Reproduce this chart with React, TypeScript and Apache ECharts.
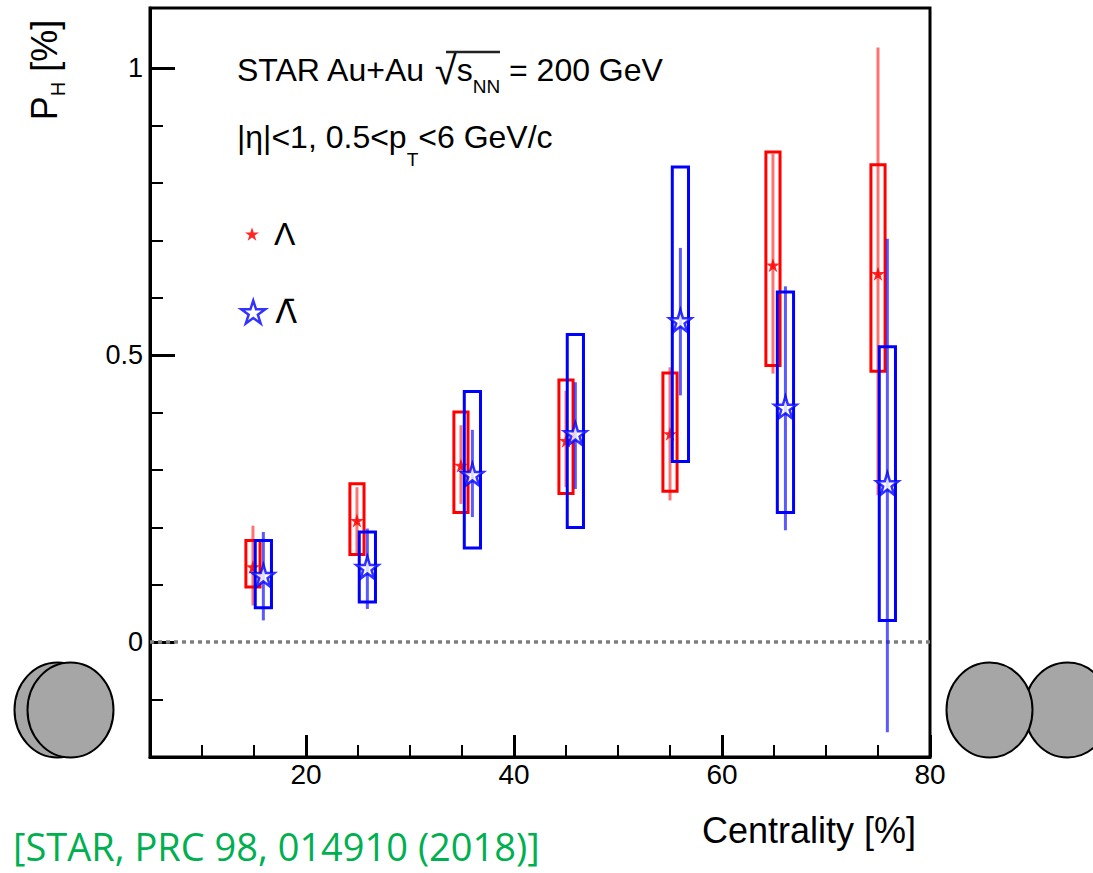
import React, { useEffect, useRef } from "react";
import * as echarts from "echarts";

// ---- data ----
// Λ (red): centrality, polarization, stat. error bar ends, syst. box ends
const CENT_LAMBDA = [14.9, 24.9, 34.9, 45.0, 55.0, 64.9, 75.0];
const PH_LAMBDA = [0.131, 0.212, 0.308, 0.351, 0.363, 0.657, 0.642];
const STAT_LO_LAMBDA = [0.064, 0.155, 0.241, 0.27, 0.247, 0.468, 0.256];
const STAT_HI_LAMBDA = [0.203, 0.27, 0.378, 0.438, 0.479, 0.851, 1.036];
const SYS_LO_LAMBDA = [0.096, 0.153, 0.226, 0.259, 0.263, 0.482, 0.472];
const SYS_HI_LAMBDA = [0.177, 0.276, 0.401, 0.457, 0.469, 0.854, 0.832];

// anti-Λ (blue)
const CENT_ALAMBDA = [15.9, 25.9, 36.0, 45.9, 56.0, 66.1, 75.9];
const PH_ALAMBDA = [0.116, 0.13, 0.292, 0.363, 0.56, 0.409, 0.276];
const STAT_LO_ALAMBDA = [0.038, 0.058, 0.218, 0.267, 0.43, 0.195, -0.157];
const STAT_HI_ALAMBDA = [0.192, 0.198, 0.37, 0.453, 0.687, 0.62, 0.703];
const SYS_LO_ALAMBDA = [0.06, 0.07, 0.164, 0.2, 0.315, 0.226, 0.038];
const SYS_HI_ALAMBDA = [0.177, 0.192, 0.437, 0.536, 0.828, 0.61, 0.515];

const X_MAJOR = [20, 40, 60, 80];
const X_MINOR = [10, 15, 25, 30, 35, 45, 50, 55, 65, 70, 75];
const Y_MAJOR = [0, 0.5, 1];
const Y_MINOR = [-0.1, 0.1, 0.2, 0.3, 0.4, 0.6, 0.7, 0.8, 0.9];

const NAME_L = "Λ";
const NAME_AL = "Λ\u0304";

// ---- styling ----
const F = "Liberation Sans, Arial, sans-serif";
const RED = "#ff0000";
const BLUE = "#0000ff";
const STAR =
  "path://M0,-10L2.245,-3.09L9.51,-3.09L3.633,1.18L5.88,8.09L0,3.82L-5.88,8.09L-3.633,1.18L-9.51,-3.09L-2.245,-3.09Z";

function boxRenderer(color: string, halfW: number) {
  return (params: any, api: any) => {
    const x = api.value(0);
    const lo = api.value(1);
    const hi = api.value(2);
    const a = api.coord([x - halfW, hi]);
    const b = api.coord([x + halfW, lo]);
    return {
      type: "rect",
      shape: { x: a[0], y: a[1], width: b[0] - a[0], height: b[1] - a[1] },
      style: { fill: "none", stroke: color, lineWidth: 3 },
    };
  };
}

function errRenderer(color: string) {
  return (params: any, api: any) => {
    const x = api.value(0);
    const a = api.coord([x, api.value(1)]);
    const b = api.coord([x, api.value(2)]);
    return {
      type: "line",
      shape: { x1: a[0], y1: a[1], x2: b[0], y2: b[1] },
      style: { stroke: color, lineWidth: 3 },
    };
  };
}

const bounds = (c: number[], lo: number[], hi: number[]) =>
  c.map((x, i) => [x, lo[i], hi[i]]);

export default function App() {
  const ref = useRef<HTMLDivElement>(null);
  useEffect(() => {
    if (!ref.current) return;
    const chart = echarts.init(ref.current, null, { renderer: "svg" });
    const xBase = {
      type: "value",
      min: 5,
      max: 80,
      gridIndex: 0,
      position: "bottom",
      splitLine: { show: false },
    };
    const yBase = {
      type: "value",
      min: -0.2,
      max: 1.105,
      gridIndex: 0,
      position: "left",
      splitLine: { show: false },
    };
    chart.setOption({
      animation: false,
      backgroundColor: "#ffffff",
      grid: {
        left: 150,
        top: 8,
        width: 780,
        height: 749,
        show: true,
        borderColor: "#000",
        borderWidth: 3,
        backgroundColor: "transparent",
        outerBoundsMode: "none",
      },
      xAxis: [
        {
          ...xBase,
          axisLine: { show: true, onZero: false, lineStyle: { color: "#000", width: 3 } },
          axisTick: {
            show: true,
            inside: true,
            length: 22,
            customValues: X_MAJOR,
            lineStyle: { color: "#000", width: 3 },
          },
          axisLabel: {
            show: true,
            customValues: X_MAJOR,
            margin: 3,
            fontSize: 28,
            fontFamily: F,
            color: "#000",
          },
        },
        {
          ...xBase,
          axisLine: { show: false, onZero: false },
          axisTick: {
            show: true,
            inside: true,
            length: 12,
            customValues: X_MINOR,
            lineStyle: { color: "#000", width: 2 },
          },
          axisLabel: { show: false },
        },
      ],
      yAxis: [
        {
          ...yBase,
          axisLine: { show: true, onZero: false, lineStyle: { color: "#000", width: 3 } },
          axisTick: {
            show: true,
            inside: true,
            length: 25,
            customValues: Y_MAJOR,
            lineStyle: { color: "#000", width: 3 },
          },
          axisLabel: {
            show: true,
            customValues: Y_MAJOR,
            margin: 7,
            fontSize: 27,
            fontFamily: F,
            color: "#000",
          },
        },
        {
          ...yBase,
          axisLine: { show: false, onZero: false },
          axisTick: {
            show: true,
            inside: true,
            length: 13,
            customValues: Y_MINOR,
            lineStyle: { color: "#000", width: 2 },
          },
          axisLabel: { show: false },
        },
      ],
      legend: [
        {
          data: [
            { name: NAME_L, icon: STAR, itemStyle: { color: RED, borderWidth: 0 } },
          ],
          left: 245,
          top: 218,
          padding: 0,
          itemWidth: 14,
          itemHeight: 14,
          selectedMode: false,
          textStyle: { fontSize: 32, fontFamily: F, color: "#000", lineHeight: 32, padding: [0, 0, 0, 10] },
        },
        {
          data: [
            {
              name: NAME_AL,
              icon: STAR,
              itemStyle: { color: "#ffffff", borderColor: BLUE, borderWidth: 2.5 },
            },
          ],
          left: 240,
          top: 296,
          padding: 0,
          itemWidth: 24,
          itemHeight: 24,
          selectedMode: false,
          textStyle: {
            fontSize: 32,
            fontFamily: "DejaVu Sans, Liberation Sans, sans-serif",
            color: "#000",
            lineHeight: 32,
            padding: [0, 0, 0, 5],
          },
        },
      ],
      series: [
        {
          type: "custom",
          name: "Λ stat",
          renderItem: errRenderer("rgba(255,0,0,0.55)"),
          encode: { x: 0, y: [1, 2] },
          data: bounds(CENT_LAMBDA, STAT_LO_LAMBDA, STAT_HI_LAMBDA),
          z: 2,
        },
        {
          type: "custom",
          name: "Λ sys",
          renderItem: boxRenderer(RED, 0.68),
          encode: { x: 0, y: [1, 2] },
          data: bounds(CENT_LAMBDA, SYS_LO_LAMBDA, SYS_HI_LAMBDA),
          z: 3,
        },
        {
          type: "scatter",
          name: NAME_L,
          symbol: STAR,
          symbolSize: 14,
          itemStyle: { color: RED, opacity: 0.85 },
          data: CENT_LAMBDA.map((c, i) => [c, PH_LAMBDA[i]]),
          z: 4,
          markLine: {
            silent: true,
            symbol: "none",
            label: { show: false },
            lineStyle: { type: [4, 4], color: "#7f7f7f", width: 3.5, opacity: 1 },
            data: [{ yAxis: 0 }],
          },
        },
        {
          type: "custom",
          name: "Λ̄ stat",
          renderItem: errRenderer("rgba(20,20,255,0.7)"),
          encode: { x: 0, y: [1, 2] },
          data: bounds(CENT_ALAMBDA, STAT_LO_ALAMBDA, STAT_HI_ALAMBDA),
          z: 5,
        },
        {
          type: "custom",
          name: "Λ̄ sys",
          renderItem: boxRenderer(BLUE, 0.78),
          encode: { x: 0, y: [1, 2] },
          data: bounds(CENT_ALAMBDA, SYS_LO_ALAMBDA, SYS_HI_ALAMBDA),
          z: 6,
        },
        {
          type: "scatter",
          name: NAME_AL,
          symbol: STAR,
          symbolSize: 22,
          itemStyle: { color: "#ffffff", borderColor: BLUE, borderWidth: 2.5 },
          data: CENT_ALAMBDA.map((c, i) => [c, PH_ALAMBDA[i]]),
          z: 7,
        },
      ],
      graphic: [
        { type: "ellipse", shape: { cx: 57.5, cy: 710, rx: 43, ry: 47.5 }, style: { fill: "#a6a6a6", stroke: "#000", lineWidth: 2 } },
        { type: "ellipse", shape: { cx: 70.5, cy: 710, rx: 43, ry: 47.5 }, style: { fill: "#a6a6a6", stroke: "#000", lineWidth: 2 } },
        { type: "ellipse", shape: { cx: 1067.5, cy: 710, rx: 43, ry: 47.5 }, style: { fill: "#a6a6a6", stroke: "#000", lineWidth: 2 } },
        { type: "ellipse", shape: { cx: 989.5, cy: 710, rx: 43, ry: 47.5 }, style: { fill: "#a6a6a6", stroke: "#000", lineWidth: 2 } },
        {
          type: "text",
          x: 237,
          y: 70,
          style: {
            text: "{t|STAR Au+Au }{r|√}{t|s}{b|NN}{t| = 200 GeV}",
            align: "left",
            verticalAlign: "middle",
            fill: "#000",
            rich: {
              t: { fontSize: 32, fontFamily: F, fill: "#000", lineHeight: 51 },
              r: { fontSize: 40, fontFamily: F, fill: "#000", lineHeight: 51 },
              b: { fontSize: 19, fontFamily: F, fill: "#000", lineHeight: 19, verticalAlign: "bottom" },
            },
          },
        },
        { type: "line", shape: { x1: 446, y1: 52, x2: 500, y2: 52 }, style: { stroke: "#222", lineWidth: 2.5 } },
        {
          type: "text",
          x: 237,
          y: 137,
          style: {
            text: "{t||η|<1, 0.5<p}{b|T}{t|<6 GeV/c}",
            align: "left",
            verticalAlign: "middle",
            fill: "#000",
            rich: {
              t: { fontSize: 32, fontFamily: F, fill: "#000", lineHeight: 63 },
              b: { fontSize: 19, fontFamily: F, fill: "#000", lineHeight: 19, verticalAlign: "bottom" },
            },
          },
        },
        {
          type: "text",
          x: 916,
          y: 830,
          style: {
            text: "Centrality [%]",
            align: "right",
            verticalAlign: "middle",
            fontSize: 36,
            fontFamily: F,
            fill: "#000",
          },
        },
        {
          type: "text",
          x: 44,
          y: 70,
          rotation: Math.PI / 2,
          style: {
            text: "{m|P}{s|H}{m| [%]}",
            align: "center",
            verticalAlign: "middle",
            fill: "#000",
            rich: {
              m: { fontSize: 36, fontFamily: F, fill: "#000", lineHeight: 48 },
              s: { fontSize: 20, fontFamily: F, fill: "#000", lineHeight: 20, verticalAlign: "bottom" },
            },
          },
        },
        {
          type: "text",
          x: 13,
          y: 846,
          style: {
            text: "[STAR, PRC 98, 014910 (2018)]",
            align: "left",
            verticalAlign: "middle",
            fontSize: 38,
            lineHeight: 38,
            fontFamily: "Open Sans, Noto Sans, sans-serif",
            fill: "#00b050",
          },
        },
      ],
    });
    return () => chart.dispose();
  }, []);
  return (
    <div
      ref={ref}
      style={{ position: "absolute", left: 0, top: 0, width: 1093, height: 873 }}
    />
  );
}
